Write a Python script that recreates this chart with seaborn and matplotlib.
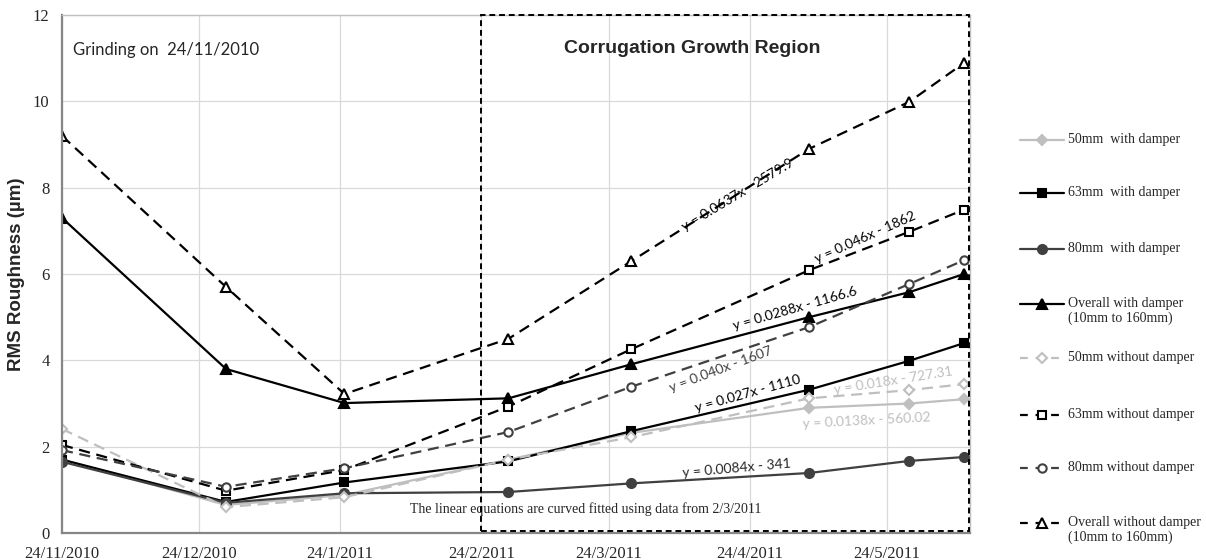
import matplotlib
matplotlib.use("Agg")
import matplotlib.pyplot as plt
from matplotlib.lines import Line2D
from matplotlib.patches import Rectangle
import numpy as np
import pandas as pd
import seaborn as sns

# ---- measurement dates and RMS roughness (µm) ----
dates = pd.to_datetime(["2010-11-24", "2010-12-30", "2011-01-25", "2011-03-02",
                        "2011-03-29", "2011-05-07", "2011-05-29", "2011-06-10"])

rms_50_with = [1.70, 0.65, 0.88, 1.70, 2.32, 2.90, 3.00, 3.10]
rms_63_with = [1.70, 0.72, 1.17, 1.66, 2.36, 3.32, 3.99, 4.40]
rms_80_with = [1.65, 0.70, 0.92, 0.95, 1.15, 1.39, 1.67, 1.76]
rms_all_with = [7.30, 3.80, 3.01, 3.12, 3.91, 5.00, 5.58, 6.00]
rms_50_without = [2.41, 0.60, 0.83, 1.70, 2.22, 3.12, 3.31, 3.45]
rms_63_without = [2.04, 0.98, 1.46, 2.93, 4.26, 6.09, 6.98, 7.49]
rms_80_without = [1.92, 1.07, 1.50, 2.34, 3.39, 4.77, 5.77, 6.32]
rms_all_without = [9.20, 5.70, 3.22, 4.50, 6.30, 8.90, 9.99, 10.89]

series_labels = ["50mm  with damper", "63mm  with damper", "80mm  with damper",
                 "Overall with damper\n(10mm to 160mm)",
                 "50mm without damper", "63mm without damper", "80mm without damper",
                 "Overall without damper\n(10mm to 160mm)"]

tick_dates = pd.to_datetime(["2010-11-24", "2010-12-24", "2011-01-24", "2011-02-24",
                             "2011-03-24", "2011-04-24", "2011-05-24"])
tick_labels = ["24/11/2010", "24/12/2010", "24/1/2011", "24/2/2011",
               "24/3/2011", "24/4/2011", "24/5/2011"]
y_ticks = [0, 2, 4, 6, 8, 10, 12]

# trend-line equations (fitted from 2/3/2011 onwards)
equations = ["y = 0.0637x - 2579.9", "y = 0.046x - 1862", "y = 0.0288x - 1166.6",
             "y = 0.040x - 1607", "y = 0.027x - 1110", "y = 0.018x - 727.31",
             "y = 0.0138x - 560.02", "y = 0.0084x - 341"]

# ---- styling ----
sns.set_style("white")
SERIF = "Liberation Serif"
ARIAL = "Liberation Sans"
CALIBRI = "Lato"
plt.rcParams["font.family"] = [SERIF, "DejaVu Sans"]

LIGHT = "#BFBFBF"
DARK = "#404040"
DASH = (0, (5, 3))

styles = [
    (rms_50_with, LIGHT, "D", "-", False, 5),
    (rms_63_with, "black", "s", "-", False, 6),
    (rms_80_with, DARK, "o", "-", False, 6.5),
    (rms_all_with, "black", "^", "-", False, 7),
    (rms_50_without, LIGHT, "D", DASH, True, 5),
    (rms_63_without, "black", "s", DASH, True, 6),
    (rms_80_without, DARK, "o", DASH, True, 6),
    (rms_all_without, "black", "^", DASH, True, 6.5),
]

W, H = 1206, 560
fig = plt.figure(figsize=(W / 100, H / 100), dpi=100)
ax = fig.add_axes([62 / W, 27 / H, 908 / W, 518 / H])

for values, color, marker, ls, hollow, ms in styles:
    sns.lineplot(x=dates, y=values, ax=ax, color=color, linewidth=1.6,
                 linestyle=ls, marker=marker, markersize=ms,
                 markeredgecolor=color, markeredgewidth=1.5,
                 markerfacecolor="white" if hollow else color)

start = pd.Timestamp("2010-11-24")
day = pd.Timedelta(days=1)
ax.set_xlim(start, start + 199.3 * day)
ax.set_ylim(0, 12)
ax.set_xticks(tick_dates)
ax.set_xticklabels(tick_labels)
ax.set_yticks(y_ticks)
ax.set_yticklabels([str(v) for v in y_ticks])
ax.tick_params(axis="both", length=0, labelsize=12, pad=9)
for lab in ax.get_xticklabels() + ax.get_yticklabels():
    lab.set_fontfamily(SERIF)
ax.set_xlabel("")
ax.set_ylabel("RMS Roughness (µm)", fontfamily=ARIAL, fontweight="bold",
              fontsize=13.5)
ax.yaxis.set_label_coords(-0.041, 0.5)

ax.grid(True, color="#D9D9D9", linewidth=0.9)
ax.set_axisbelow(True)
for side in ("left", "bottom"):
    ax.spines[side].set_color("#868686")
    ax.spines[side].set_linewidth(1.6)
for side in ("top", "right"):
    ax.spines[side].set_color("#BFBFBF")
    ax.spines[side].set_linewidth(1.0)

# corrugation growth region box
box_start = pd.Timestamp("2011-02-24")
box = Rectangle((box_start, 0.05), (start + 199 * day) - box_start, 11.95,
                fill=False, edgecolor="black", linewidth=1.4,
                linestyle=(0, (3, 2)), clip_on=False, zorder=5)
ax.add_patch(box)

ax.text(start + 2.4 * day, 11.19, "Grinding on  24/11/2010", fontfamily=CALIBRI,
        fontsize=12, ha="left", va="center")
ax.text(start + 138.4 * day, 11.22, "Corrugation Growth Region", fontfamily=ARIAL,
        fontweight="bold", fontsize=14, ha="center", va="center")
ax.text(start + 115 * day, 0.56,
        "The linear equations are curved fitted using data from 2/3/2011",
        fontfamily=SERIF, fontsize=10, ha="center", va="center")

# equation labels: (day offset, value, angle, colour)
eq_layout = [
    (148.3, 7.83, 31, "black"),
    (176.4, 6.84, 24, "black"),
    (161.0, 5.21, 16, "black"),
    (144.6, 3.78, 20.5, DARK),
    (150.5, 3.22, 15.5, "black"),
    (182.5, 3.52, 9, LIGHT),
    (176.6, 2.60, 3, LIGHT),
    (148.1, 1.51, 5, "#262626"),
]
for text, (d, v, ang, col) in zip(equations, eq_layout):
    ax.text(start + d * day, v, text, fontfamily=CALIBRI, fontsize=10,
            rotation=ang, rotation_mode="anchor", ha="center", va="center",
            color=col, zorder=6)

# legend on the right
legend_y = [140, 193, 249, 304, 358, 415, 468, 523]
for (values, color, marker, ls, hollow, ms), label, yp in zip(styles, series_labels, legend_y):
    yf = 1 - yp / H
    xs = np.array([1020, 1042, 1064]) / W
    handle = Line2D(xs, [yf] * 3, transform=fig.transFigure, color=color,
                    linewidth=1.6, linestyle=ls if ls == "-" else (0, (3.5, 3.5)),
                    marker=marker, markevery=[1], markersize=ms,
                    markeredgecolor=color, markeredgewidth=1.5,
                    markerfacecolor="white" if hollow else color)
    fig.add_artist(handle)
    fig.text(1068 / W, yf + 7 / H, label, fontfamily=SERIF, fontsize=10,
             ha="left", va="top", linespacing=1.15)

fig.savefig("out.png", dpi=100)
